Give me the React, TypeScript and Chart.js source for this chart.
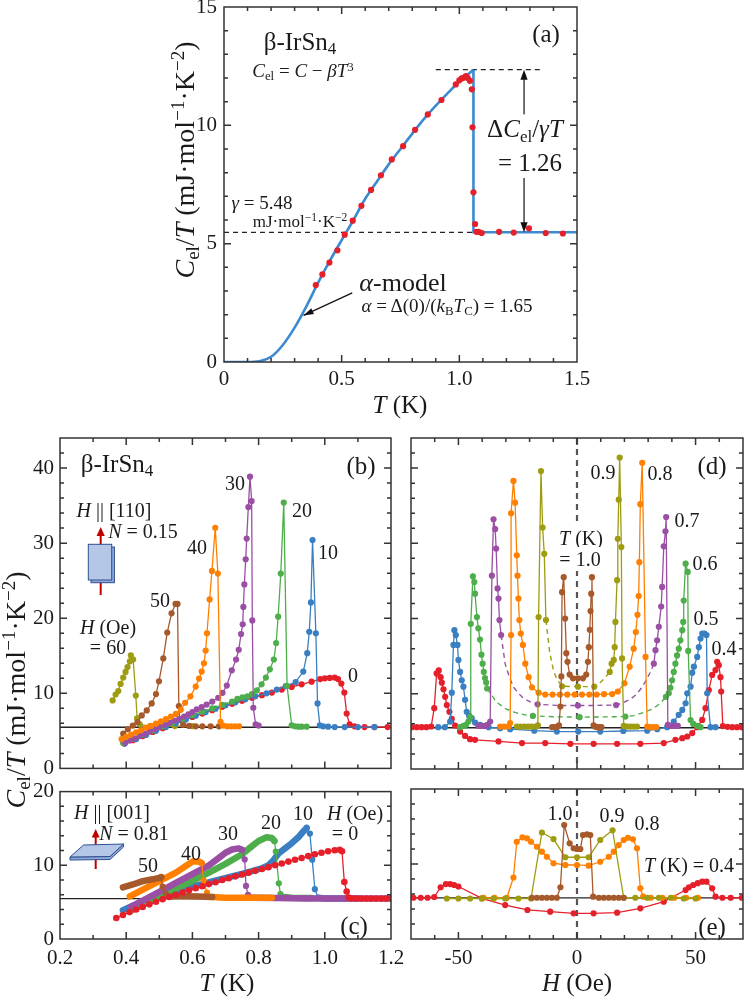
import React, { useEffect, useRef } from "react";
import { Chart, registerables } from "chart.js";

Chart.register(...registerables);

const SERIF = "'Liberation Serif', 'Times New Roman', Times, serif";
const INK = "#1a1a1a";
const RED = "#e5202b";
const BLUE = "#3a7fc1";
const GREEN = "#4eae4b";
const PURPLE = "#9a4fa5";
const ORANGE = "#ff8000";
const BROWN = "#a65a2c";
const OLIVE = "#9e9c10";
const FIT = "#3d8ad0";

// ---------------- common values ----------------
const GAMMA = 5.48;
const TC = 1.06;
const PEAK = 12.35;

// ---------------- panel (a) ----------------
const A_T = [0.39, 0.418, 0.448, 0.482, 0.513, 0.547, 0.584, 0.625, 0.667, 0.713, 0.761, 0.812, 0.866, 0.924, 0.985, 1.0, 1.01, 1.02, 1.028, 1.036, 1.045, 1.053, 1.056, 1.06, 1.067, 1.073, 1.082, 1.095, 1.169, 1.231, 1.296, 1.367, 1.44];
const A_C = [3.25, 3.7, 4.2, 4.72, 5.38, 5.97, 6.6, 7.27, 7.89, 8.56, 9.12, 9.81, 10.46, 11.07, 11.73, 11.9, 11.98, 12.02, 12.08, 12.0, 11.88, 11.52, 9.92, 7.17, 5.83, 5.5, 5.5, 5.45, 5.5, 5.47, 5.65, 5.45, 5.43];
const A_FIT_T = [0, 0.05, 0.1, 0.15, 0.2, 0.25, 0.3, 0.35, 0.4, 0.45, 0.5, 0.55, 0.6, 0.65, 0.7, 0.75, 0.8, 0.85, 0.9, 0.95, 1.0, 1.03, 1.06];
const A_FIT_C = [0, 0, 0, 0.03, 0.22, 0.72, 1.45, 2.35, 3.35, 4.28, 5.15, 6.0, 6.9, 7.63, 8.35, 9.0, 9.65, 10.27, 10.83, 11.35, 11.85, 12.1, 12.35];
const A_STEP_T = [TC, TC, 1.5];
const A_STEP_C = [PEAK, GAMMA, GAMMA];
const A_X_TICKS = [0, 0.5, 1.0, 1.5];
const A_X_LABELS = ["0", "0.5", "1.0", "1.5"];
const A_Y_TICKS = [0, 5, 10, 15];
const A_Y_LABELS = ["0", "5", "10", "15"];
const A_ARROW_T = 1.275;
const A_TOPDASH = [0.9, 1.35];
const A_POINTER = [0.545, 2.92, 0.338, 1.97];

// ---------------- panel (b): H || [110] ----------------
const B0_T = [0.394, 0.42, 0.45, 0.48, 0.51, 0.54, 0.57, 0.6, 0.63, 0.66, 0.69, 0.72, 0.75, 0.78, 0.81, 0.84, 0.87, 0.9, 0.93, 0.96, 0.986, 1.0, 1.015, 1.03, 1.04, 1.05, 1.059, 1.066, 1.075, 1.09, 1.12, 1.15, 1.19];
const B0_C = [3.3, 3.75, 4.3, 4.85, 5.35, 5.85, 6.35, 6.85, 7.3, 7.75, 8.2, 8.6, 9.0, 9.4, 9.75, 10.1, 10.5, 10.85, 11.2, 11.55, 11.9, 12.0, 12.05, 12.1, 11.9, 11.3, 10.1, 7.3, 5.87, 5.6, 5.5, 5.5, 5.5];
const B10_T = [0.396, 0.43, 0.46, 0.49, 0.52, 0.55, 0.58, 0.61, 0.64, 0.67, 0.7, 0.73, 0.76, 0.79, 0.824, 0.855, 0.882, 0.912, 0.935, 0.947, 0.953, 0.958, 0.963, 0.973, 0.978, 0.985, 0.995, 1.01, 1.03, 1.06, 1.1, 1.15];
const B10_C = [3.3, 3.9, 4.45, 5.0, 5.5, 6.0, 6.5, 7.0, 7.5, 7.95, 8.4, 8.8, 9.2, 9.6, 10.0, 10.5, 10.95, 11.5, 12.9, 15.35, 18.2, 22.1, 30.4, 18.0, 8.65, 5.73, 5.6, 5.55, 5.5, 5.5, 5.5, 5.5];
const B20_T = [0.39, 0.42, 0.45, 0.48, 0.51, 0.54, 0.57, 0.6, 0.63, 0.66, 0.69, 0.72, 0.736, 0.751, 0.766, 0.78, 0.795, 0.809, 0.822, 0.834, 0.846, 0.853, 0.859, 0.867, 0.876, 0.886, 0.9, 0.91, 0.92, 0.93, 0.945];
const B20_C = [3.4, 3.95, 4.5, 5.05, 5.6, 6.1, 6.6, 7.1, 7.55, 8.0, 8.45, 8.9, 9.27, 9.45, 9.6, 9.9, 10.4, 11.2, 12.1, 13.2, 14.5, 16.7, 20.2, 25.95, 35.4, 11.0, 5.73, 5.6, 5.55, 5.55, 5.55];
const B30_T = [0.396, 0.41, 0.425, 0.44, 0.455, 0.47, 0.485, 0.5, 0.515, 0.53, 0.545, 0.56, 0.575, 0.588, 0.6, 0.613, 0.628, 0.643, 0.66, 0.678, 0.691, 0.704, 0.719, 0.732, 0.74, 0.747, 0.752, 0.754, 0.757, 0.761, 0.764, 0.769, 0.774, 0.779, 0.781, 0.784, 0.791, 0.8];
const B30_C = [3.44, 3.7, 4.0, 4.3, 4.6, 4.9, 5.2, 5.5, 5.8, 6.05, 6.35, 6.6, 6.9, 7.2, 7.5, 7.85, 8.15, 8.5, 8.9, 9.4, 10.07, 11.03, 13.06, 14.5, 15.8, 17.9, 19.2, 21.5, 24.5, 27.85, 30.6, 34.8, 38.85, 35.6, 19.7, 8.08, 5.87, 5.7];
const B40_T = [0.386, 0.4, 0.415, 0.43, 0.445, 0.46, 0.475, 0.49, 0.505, 0.52, 0.535, 0.55, 0.565, 0.578, 0.594, 0.61, 0.62, 0.628, 0.635, 0.64, 0.644, 0.652, 0.659, 0.669, 0.677, 0.685, 0.693, 0.705, 0.717, 0.729, 0.741];
const B40_C = [3.9, 4.2, 4.5, 4.8, 5.1, 5.4, 5.65, 5.95, 6.25, 6.55, 6.9, 7.25, 7.8, 8.74, 9.6, 10.9, 11.96, 12.9, 14.0, 15.7, 18.0, 22.5, 26.3, 32.05, 25.95, 6.2, 5.7, 5.6, 5.6, 5.6, 5.6];
const B50_T = [0.391, 0.405, 0.42, 0.434, 0.447, 0.462, 0.477, 0.49, 0.499, 0.512, 0.524, 0.537, 0.549, 0.555, 0.559, 0.562, 0.572, 0.59, 0.61, 0.63, 0.655, 0.68];
const B50_C = [4.63, 5.2, 5.7, 6.17, 7.06, 7.72, 8.65, 9.9, 11.6, 14.65, 18.1, 20.65, 21.9, 21.9, 8.3, 6.5, 5.8, 5.65, 5.6, 5.6, 5.6, 5.6];
const B60_T = [0.359, 0.368, 0.376, 0.383, 0.391, 0.398, 0.404, 0.411, 0.414, 0.421, 0.429, 0.433, 0.441, 0.472, 0.502, 0.547, 0.6];
const B60_C = [9.05, 9.84, 10.3, 11.25, 12.1, 12.85, 13.5, 14.25, 15.05, 14.5, 9.7, 6.66, 5.87, 5.64, 5.56, 5.64, 5.64];
const BC_X_TICKS = [0.2, 0.4, 0.6, 0.8, 1.0, 1.2];
const BC_X_LABELS = ["0.2", "0.4", "0.6", "0.8", "1.0", "1.2"];
const B_Y_TICKS = [0, 10, 20, 30, 40];
const B_Y_LABELS = ["0", "10", "20", "30", "40"];

// ---------------- panel (c): H || [001] ----------------
const C0_T = [0.37, 0.39, 0.41, 0.43, 0.45, 0.47, 0.49, 0.51, 0.53, 0.55, 0.57, 0.59, 0.61, 0.63, 0.65, 0.67, 0.69, 0.71, 0.73, 0.75, 0.77, 0.79, 0.81, 0.83, 0.85, 0.87, 0.89, 0.91, 0.93, 0.95, 0.97, 0.99, 1.01, 1.03, 1.045, 1.052, 1.059, 1.066, 1.072, 1.08, 1.095, 1.11, 1.125, 1.14, 1.155, 1.17, 1.185, 1.2];
const C0_C = [2.84, 3.25, 3.65, 4.0, 4.35, 4.7, 5.05, 5.4, 5.7, 6.0, 6.3, 6.6, 6.9, 7.15, 7.45, 7.7, 8.0, 8.25, 8.5, 8.75, 9.0, 9.25, 9.5, 9.75, 10.0, 10.25, 10.5, 10.75, 11.0, 11.25, 11.5, 11.7, 11.9, 12.05, 12.1, 11.9, 7.73, 6.45, 5.64, 5.52, 5.5, 5.48, 5.48, 5.48, 5.48, 5.48, 5.48, 5.48];
const C10_T = [0.39, 0.42, 0.45, 0.48, 0.51, 0.54, 0.57, 0.6, 0.63, 0.66, 0.69, 0.72, 0.75, 0.78, 0.81, 0.83, 0.845, 0.86, 0.88, 0.9, 0.92, 0.935, 0.945, 0.955, 0.962, 0.97, 0.98, 1.0, 1.03, 1.06, 1.1];
const C10_C = [3.9, 4.5, 5.0, 5.45, 5.9, 6.3, 6.7, 7.1, 7.45, 7.8, 8.15, 8.5, 8.85, 9.2, 9.6, 10.0, 10.7, 11.6, 12.3, 13.0, 13.8, 14.6, 15.07, 14.3, 10.76, 6.76, 5.6, 5.5, 5.5, 5.5, 5.5];
const C20_T = [0.415, 0.45, 0.5, 0.55, 0.6, 0.65, 0.7, 0.75, 0.78, 0.8, 0.824, 0.84, 0.848, 0.852, 0.861, 0.866, 0.875, 0.9, 0.93, 0.96];
const C20_C = [3.87, 4.65, 5.75, 6.85, 7.9, 9.0, 10.2, 11.5, 12.6, 13.3, 13.8, 13.7, 13.3, 11.87, 7.56, 6.1, 5.7, 5.6, 5.55, 5.55];
const C30_T = [0.415, 0.45, 0.5, 0.55, 0.6, 0.65, 0.68, 0.7, 0.72, 0.74, 0.75, 0.758, 0.762, 0.768, 0.78, 0.85, 0.95, 1.05, 1.15, 1.2];
const C30_C = [4.4, 5.2, 6.4, 7.6, 8.8, 10.0, 11.0, 11.7, 12.15, 12.3, 12.1, 10.8, 7.2, 6.0, 5.6, 5.55, 5.5, 5.5, 5.5, 5.48];
const C40_T = [0.411, 0.45, 0.5, 0.55, 0.58, 0.6, 0.62, 0.628, 0.634, 0.644, 0.66, 0.7, 0.75, 0.8, 0.84];
const C40_C = [5.78, 6.7, 7.85, 9.0, 9.9, 10.5, 10.5, 10.3, 7.96, 6.3, 5.7, 5.6, 5.6, 5.6, 5.6];
const C50_T = [0.39, 0.42, 0.45, 0.48, 0.5, 0.506, 0.51, 0.52, 0.54, 0.58, 0.62, 0.66];
const C50_C = [7.0, 7.4, 7.85, 8.1, 8.3, 8.4, 7.1, 6.1, 5.8, 5.8, 5.75, 5.7];
const C_Y_TICKS = [0, 10, 20];
const C_Y_LABELS = ["0", "10", "20"];

// ---------------- panel (d): field sweeps, H || [110] ----------------
const D04_H = [-69.5, -67.5, -65.5, -63.5, -61.5, -60.2, -59.2, -58.3, -57.5, -57.0, -56.3, -55.6, -54.9, -53.8, -52.8, -51.4, -49.3, -47.2, -45.1, -43.0, -33.1, -23.2, -13.4, -2.8, 7.0, 16.9, 26.7, 36.6, 41.5, 44.4, 46.5, 48.6, 50.7, 52.8, 54.2, 55.6, 57.0, 58.4, 59.1, 59.8, 60.5, 60.8, 61.5, 63.5, 65.5, 67.5, 69.5];
const D04_C = [5.56, 5.56, 5.56, 5.56, 5.65, 8.08, 12.7, 13.1, 12.2, 11.47, 10.6, 9.6, 8.5, 7.6, 6.66, 5.78, 4.98, 4.4, 3.97, 3.88, 3.66, 3.44, 3.44, 3.35, 3.35, 3.35, 3.35, 3.44, 3.88, 4.1, 4.32, 4.77, 5.56, 6.53, 8.08, 10.5, 12.5, 13.15, 14.25, 13.8, 12.2, 10.3, 5.7, 5.6, 5.56, 5.56, 5.56];
const D05_H = [-58.5, -55.7, -53.5, -52.8, -52.1, -51.7, -51.1, -50.4, -50.0, -49.3, -48.6, -47.9, -47.2, -46.5, -45.5, -44.4, -43.0, -40.9, -37.3, -32.4, -28.2, -18.0, -8.5, 0.5, 9.8, 19.5, 29.6, 33.8, 38.0, 40.8, 42.9, 44.4, 45.8, 46.5, 47.9, 48.6, 49.3, 50.7, 51.4, 52.1, 52.8, 53.8, 54.6, 54.9, 56.3, 58.4];
const D05_C = [5.56, 5.56, 6.3, 10.15, 16.5, 18.45, 17.8, 16.5, 14.5, 12.9, 11.8, 10.95, 9.2, 7.6, 7.06, 6.75, 6.17, 5.87, 5.56, 5.43, 5.3, 5.1, 4.98, 4.98, 4.98, 5.05, 5.1, 5.3, 5.56, 6.3, 7.2, 7.85, 8.74, 10.07, 10.95, 12.8, 13.6, 14.9, 16.2, 17.35, 18.0, 18.0, 17.8, 10.07, 5.56, 5.56];
const D06L_H = [-49.3, -47.9, -46.8, -45.8, -45.1, -44.8, -43.9, -43.3, -43.0, -42.2, -41.6, -40.9, -40.3, -39.8, -39.3, -38.8, -38.3, -37.9];
const D06L_C = [5.56, 5.73, 5.87, 6.3, 6.9, 19.3, 25.6, 24.85, 23.3, 20.2, 18.7, 17.2, 15.2, 14.0, 12.9, 12.1, 11.5, 10.7];
const D06G_H = [-37.9, -34, -30, -26, -22, -18.6, -10, 1.1, 10, 20.4, 24, 28, 32, 35, 37.5];
const D06G_C = [10.7, 8.9, 8.0, 7.5, 7.2, 7.06, 6.95, 6.89, 6.92, 6.97, 7.1, 7.5, 8.0, 8.7, 9.6];
const D06M_H = [-18.6, 1.1, 20.4];
const D06M_C = [7.06, 6.89, 6.97];
const D06R_H = [37.5, 38.7, 39.4, 40.1, 40.8, 41.5, 42.2, 42.9, 43.6, 44.4, 44.8, 45.0, 45.8, 46.7, 46.9, 47.9, 49.0, 50.7, 52.1];
const D06R_C = [9.6, 10.07, 10.8, 11.8, 12.9, 14.0, 15.1, 16.0, 17.1, 18.45, 19.55, 22.4, 27.3, 26.2, 15.7, 6.5, 5.99, 5.73, 5.56];
const D07L_H = [-41.6, -40.1, -38.7, -37.8, -36.6, -35.9, -35.2, -34.5, -34.1, -33.5, -33.1, -32.7, -32.0];
const D07L_C = [5.73, 5.73, 5.73, 5.87, 6.3, 25.7, 33.2, 31.9, 29.3, 24.0, 22.65, 19.8, 17.8];
const D07G_H = [-32.0, -30.3, -28.5, -26.8, -24.5, -22.6, -19.5, -16.6, -8, 0.4, 8, 16.5, 19.5, 22.6, 25, 27, 29, 30.8, 32.4];
const D07G_C = [17.8, 14.0, 12.2, 10.9, 10.0, 9.4, 8.9, 8.6, 8.45, 8.43, 8.45, 8.5, 8.8, 9.3, 9.9, 10.7, 11.7, 12.8, 14.0];
const D07M_H = [-16.6, 0.4, 16.5];
const D07M_C = [8.6, 8.43, 8.5];
const D07R_H = [32.4, 33.1, 33.8, 34.5, 35.5, 35.9, 36.6, 37.3, 37.6, 38.3, 39.5, 41.0, 42.5];
const D07R_C = [14.0, 15.8, 17.1, 18.9, 21.6, 24.2, 29.6, 31.6, 33.5, 5.87, 5.73, 5.73, 5.73];
const D08_H = [-32.4, -30.7, -28.9, -28.2, -27.8, -27.8, -26.8, -26.1, -25.4, -25.1, -24.7, -24.3, -23.7, -22.8, -21.8, -20.4, -19.0, -16.2, -13.4, -10.3, -7.2, -4.1, -1.0, 2.1, 5.2, 8.3, 11.4, 14.8, 17.2, 20.0, 22.2, 23.9, 24.8, 25.5, 26.0, 26.3, 26.7, 27.5, 28.9, 29.6, 31.0, 32.4, 33.4];
const D08_C = [5.64, 5.64, 5.64, 6.1, 17.8, 34.0, 38.3, 35.4, 28.4, 25.7, 22.65, 19.8, 18.0, 16.5, 14.0, 12.2, 10.86, 10.15, 9.9, 9.9, 9.9, 9.9, 9.9, 9.9, 9.9, 9.9, 9.95, 9.97, 10.3, 11.4, 13.6, 16.0, 18.2, 20.5, 23.0, 27.5, 35.2, 40.7, 14.9, 5.64, 5.56, 5.56, 5.56];
const D09L_H = [-25.4, -23.8, -22.2, -20.6, -19.0, -17.4, -16.5, -16.2, -15.2, -14.5, -13.8, -13.1];
const D09L_C = [5.64, 5.64, 5.64, 5.64, 5.64, 5.64, 5.8, 20.2, 39.6, 32.1, 28.6, 19.8];
const D09G_H = [-13.1, -11.5, -10, -8.5, -6.3, 0.4, 7.3, 9.5, 11.5, 13.8];
const D09G_C = [19.8, 15.5, 13.2, 11.9, 11.0, 10.95, 10.95, 11.4, 12.0, 12.9];
const D09M_H = [-6.3, 0.4, 7.3];
const D09M_C = [11.0, 10.95, 10.95];
const D09R_H = [13.8, 14.6, 15.5, 15.9, 16.2, 16.9, 17.2, 17.6, 18.0, 18.7, 19.0, 19.7, 21.1, 22.5, 23.9, 25.3];
const D09R_C = [12.9, 14.0, 14.5, 16.2, 19.55, 25.1, 30.6, 35.8, 41.4, 29.5, 14.7, 5.73, 5.64, 5.64, 5.64, 5.64];
const D10_H = [-10.5, -9.5, -8.5, -7.6, -7.0, -6.6, -6.3, -5.6, -5.0, -4.5, -4.0, -3.1, -1.7, 0.4, 2.5, 3.9, 4.6, 5.0, 5.4, 5.7, 6.0, 6.3, 7.0, 7.6, 8.5, 9.4, 10.3];
const D10_C = [5.56, 5.56, 5.6, 5.8, 8.3, 12.3, 23.5, 25.5, 20.0, 15.4, 14.25, 12.55, 12.05, 12.05, 12.05, 12.55, 14.25, 16.2, 18.5, 21.0, 23.3, 25.5, 5.8, 5.64, 5.56, 5.56, 5.56];
const DE_X_TICKS = [-50, 0, 50];
const DE_X_LABELS = ["-50", "0", "50"];

// ---------------- panel (e): field sweeps, H || [001] ----------------
const E04_H = [-69, -65.9, -63, -60.2, -57.5, -55.3, -53.5, -51.8, -50, -40.1, -30.3, -20.9, -11.3, -1.4, 7, 16.9, 26.7, 36.6, 45.8, 47.2, 49, 50.9, 52.8, 54.6, 57, 58.4, 61.3, 64.8, 69.5];
const E04_C = [5.5, 5.5, 5.5, 5.6, 6.9, 7.33, 7.33, 7.2, 7.0, 5.42, 4.53, 3.87, 3.64, 3.42, 3.42, 3.51, 4.09, 4.98, 6.53, 6.9, 7.2, 7.45, 7.64, 7.64, 6.76, 5.64, 5.5, 5.5, 5.5];
const E08_H = [-39.4, -34.8, -29.6, -26.8, -25.4, -23, -21.1, -19.4, -16.9, -14.8, -12.7, -9.9, -4.9, 0, 4.9, 9.8, 13.4, 15.5, 17.6, 19.7, 21.5, 23.6, 25.3, 26.7, 27.9, 31.1, 36, 41, 46, 51];
const E08_C = [5.5, 5.5, 5.5, 8.2, 12.97, 13.56, 13.42, 12.97, 12.3, 11.64, 10.97, 10.1, 9.87, 9.87, 9.78, 10.3, 10.97, 11.64, 12.53, 13.2, 13.5, 13.3, 12.1, 6.76, 5.64, 5.5, 5.5, 5.5, 5.5, 5.5];
const E09_H = [-54.9, -50, -45.1, -40.1, -35.2, -30.3, -24.7, -19.4, -14.8, -9.9, -4.9, 0, 4.9, 9.8, 15, 19.7, 24.6, 29.6, 34.5, 39.5, 45, 50];
const E09_C = [5.4, 5.4, 5.4, 5.4, 5.4, 5.4, 5.4, 5.4, 14.2, 13.33, 10.9, 10.9, 10.9, 13.2, 14.5, 5.5, 5.5, 5.5, 5.5, 5.5, 5.4, 5.4];
const E10_H = [-19, -16.9, -14.8, -12.7, -10.6, -8.5, -7, -5.4, -3.1, -1.4, 0, 1.4, 2.5, 4.2, 5.6, 6.8, 9.2, 11.3, 13.4, 15.5, 17.6, 19.7];
const E10_C = [5.5, 5.5, 5.5, 5.5, 5.5, 5.5, 6.9, 15.2, 12.76, 12.1, 12.0, 12.0, 13.87, 13.96, 13.87, 5.64, 5.5, 5.5, 5.5, 5.5, 5.5, 5.5];

// ---------------- helpers ----------------
type Axis = { min: number; max: number; major: number[]; minor: number; labels?: string[]; pad?: number };
type Area = { l: number; t: number; r: number; b: number };
type Marg = { ml: number; mt: number; mr: number; mb: number };
type Decor = {
  hline?: number;
  vdash?: number;
  under?: (ctx: CanvasRenderingContext2D, xs: any, ys: any) => void;
  over?: (ctx: CanvasRenderingContext2D, xs: any, ys: any) => void;
};

const pts = (xs: number[], ys: number[]) => xs.map((x, i) => ({ x, y: ys[i] }));

function ser(xs: number[], ys: number[], color: string, extra: any = {}) {
  return {
    data: pts(xs, ys),
    showLine: true,
    borderColor: color,
    backgroundColor: color,
    pointBackgroundColor: color,
    pointBorderColor: color,
    pointBorderWidth: 0,
    pointRadius: 3.1,
    borderWidth: 1.3,
    tension: 0,
    ...extra,
  };
}
const guide = (xs: number[], ys: number[], color: string) =>
  ser(xs, ys, color, { pointRadius: 0, borderDash: [5, 4], borderWidth: 1.4 });
const dots = (xs: number[], ys: number[], color: string) => ser(xs, ys, color, { showLine: false });

// dense sweeps in (c): thick band, thin line across the drop, thick band afterwards
function banded(xs: number[], ys: number[], color: string, i0: number, i1: number) {
  const band = { pointRadius: 0, borderWidth: 6.5, borderCapStyle: "round", borderJoinStyle: "round" };
  return [
    ser(xs.slice(0, i0 + 1), ys.slice(0, i0 + 1), color, band),
    ser(xs.slice(i0, i1 + 1), ys.slice(i0, i1 + 1), color),
    ser(xs.slice(i1), ys.slice(i1), color, band),
  ];
}

function axisOpts(a: Axis, horiz: boolean, size: number) {
  return {
    type: "linear",
    min: a.min,
    max: a.max,
    grid: { display: false, drawTicks: false },
    border: { display: false },
    afterBuildTicks: (s: any) => {
      s.ticks = a.major.map((v) => ({ value: v }));
    },
    afterFit: (s: any) => {
      if (horiz) s.height = size;
      else s.width = size;
    },
    ticks: {
      display: !!a.labels,
      padding: a.pad ?? 6,
      autoSkip: false,
      maxRotation: 0,
      color: INK,
      font: { family: SERIF, size: 21 },
      callback: (_v: any, i: number) => (a.labels ? a.labels[i] : ""),
    },
  };
}

function arrowHead(ctx: CanvasRenderingContext2D, x: number, y: number, ang: number, len = 10, half = 3.6) {
  const c = Math.cos(ang), s = Math.sin(ang);
  ctx.beginPath();
  ctx.moveTo(x, y);
  ctx.lineTo(x - len * c + half * s, y - len * s - half * c);
  ctx.lineTo(x - len * c - half * s, y - len * s + half * c);
  ctx.closePath();
  ctx.fill();
}

function decorPlugin(xa: Axis, ya: Axis, d: Decor) {
  return {
    id: "decor",
    beforeDatasetsDraw(chart: any) {
      const { ctx, chartArea: a } = chart;
      const xs = chart.scales.x, ys = chart.scales.y;
      ctx.save();
      ctx.beginPath();
      ctx.rect(a.left, a.top, a.right - a.left, a.bottom - a.top);
      ctx.clip();
      if (d.hline !== undefined) {
        const py = ys.getPixelForValue(d.hline);
        ctx.strokeStyle = "#222";
        ctx.lineWidth = 1.4;
        ctx.beginPath();
        ctx.moveTo(a.left, py);
        ctx.lineTo(a.right, py);
        ctx.stroke();
      }
      if (d.vdash !== undefined) {
        const px = xs.getPixelForValue(d.vdash);
        ctx.strokeStyle = "#555";
        ctx.lineWidth = 2.2;
        ctx.setLineDash([6, 5]);
        ctx.beginPath();
        ctx.moveTo(px, a.top);
        ctx.lineTo(px, a.bottom);
        ctx.stroke();
        ctx.setLineDash([]);
      }
      if (d.under) d.under(ctx, xs, ys);
      ctx.restore();
    },
    afterDatasetsDraw(chart: any) {
      const { ctx, chartArea: a } = chart;
      const xs = chart.scales.x, ys = chart.scales.y;
      if (d.over) {
        ctx.save();
        d.over(ctx, xs, ys);
        ctx.restore();
      }
      ctx.save();
      ctx.strokeStyle = "#333";
      ctx.lineWidth = 1.5;
      const tick = (ax: Axis, sc: any, horiz: boolean) => {
        const k0 = Math.ceil(ax.min / ax.minor - 1e-6);
        const k1 = Math.floor(ax.max / ax.minor + 1e-6);
        for (let k = k0; k <= k1; k++) {
          const v = k * ax.minor;
          if (Math.abs(v - ax.min) < 1e-6 || Math.abs(v - ax.max) < 1e-6) continue;
          const major = ax.major.some((t) => Math.abs(t - v) < 1e-6);
          const len = major ? 7 : 4;
          const p = sc.getPixelForValue(v);
          ctx.beginPath();
          if (horiz) {
            ctx.moveTo(p, a.bottom);
            ctx.lineTo(p, a.bottom - len);
            ctx.moveTo(p, a.top);
            ctx.lineTo(p, a.top + len);
          } else {
            ctx.moveTo(a.left, p);
            ctx.lineTo(a.left + len, p);
            ctx.moveTo(a.right, p);
            ctx.lineTo(a.right - len, p);
          }
          ctx.stroke();
        }
      };
      tick(xa, xs, true);
      tick(ya, ys, false);
      ctx.strokeRect(a.left, a.top, a.right - a.left, a.bottom - a.top);
      ctx.restore();
    },
  };
}

function Panel({ area, m, x, y, datasets, decor }: { area: Area; m: Marg; x: Axis; y: Axis; datasets: any[]; decor: Decor }) {
  const ref = useRef<HTMLCanvasElement>(null);
  const w = area.r - area.l + m.ml + m.mr;
  const h = area.b - area.t + m.mt + m.mb;
  useEffect(() => {
    const chart = new Chart(ref.current as HTMLCanvasElement, {
      type: "scatter",
      data: { datasets },
      options: {
        animation: false,
        responsive: false,
        events: [],
        layout: { padding: { left: 0, top: m.mt, right: m.mr, bottom: 0 } },
        plugins: { legend: { display: false }, tooltip: { enabled: false } },
        scales: { x: axisOpts(x, true, m.mb), y: axisOpts(y, false, m.ml) } as any,
      },
      plugins: [decorPlugin(x, y, decor)],
    } as any);
    return () => chart.destroy();
  }, []);
  return (
    <canvas
      ref={ref}
      width={w}
      height={h}
      style={{ position: "absolute", left: area.l - m.ml, top: area.t - m.mt, width: w, height: h }}
    />
  );
}

// ---------------- text helpers ----------------
function Txt({ x, y, s = 20, bg, rot, children }: any) {
  return (
    <div
      style={{
        position: "absolute",
        left: x,
        top: y,
        transform: `translate(-50%,-50%)${rot ? " rotate(-90deg)" : ""}`,
        fontFamily: SERIF,
        fontSize: s,
        lineHeight: bg ? `${Math.round(s * 1.2)}px` : 1,
        whiteSpace: "nowrap",
        color: INK,
        background: bg ? "#fff" : undefined,
      }}
    >
      {children}
    </div>
  );
}
const I = ({ children }: any) => <i>{children}</i>;
const Sub = ({ children }: any) => (
  <span style={{ fontSize: "0.68em", verticalAlign: "-0.25em", fontStyle: "normal" }}>{children}</span>
);
const Sup = ({ children }: any) => (
  <span style={{ fontSize: "0.68em", verticalAlign: "0.5em", fontStyle: "normal" }}>{children}</span>
);
const YTitle = () => (
  <>
    <I>C</I>
    <Sub>el</Sub>/<I>T</I> (mJ·mol<Sup>−1</Sup>·K<Sup>−2</Sup>)
  </>
);

// ---------------- layout ----------------
const AREA_A: Area = { l: 224, t: 7, r: 577, b: 362 };
const AREA_B: Area = { l: 60, t: 438, r: 391, b: 769 };
const AREA_C: Area = { l: 60, t: 789, r: 391, b: 939 };
const AREA_D: Area = { l: 411, t: 438, r: 743, b: 769 };
const AREA_E: Area = { l: 411, t: 789, r: 743, b: 939 };

export default function App() {
  const ax: Axis = { min: 0, max: 1.5, major: A_X_TICKS, minor: 0.1, labels: A_X_LABELS, pad: 5 };
  const ay: Axis = { min: 0, max: 15, major: A_Y_TICKS, minor: 1, labels: A_Y_LABELS, pad: 7 };
  const bx: Axis = { min: 0.2, max: 1.2, major: BC_X_TICKS, minor: 0.1 };
  const by: Axis = { min: 0, max: 44, major: B_Y_TICKS, minor: 2, labels: B_Y_LABELS, pad: 6 };
  const cx: Axis = { min: 0.2, max: 1.2, major: BC_X_TICKS, minor: 0.1, labels: BC_X_LABELS, pad: 7 };
  const cy: Axis = { min: 0, max: 20, major: C_Y_TICKS, minor: 2, labels: C_Y_LABELS, pad: 6 };
  const dx: Axis = { min: -70, max: 70, major: DE_X_TICKS, minor: 10 };
  const dy: Axis = { min: 0, max: 44, major: B_Y_TICKS, minor: 2 };
  const ex: Axis = { min: -70, max: 70, major: DE_X_TICKS, minor: 10, labels: DE_X_LABELS, pad: 7 };
  const ey: Axis = { min: 0, max: 20, major: C_Y_TICKS, minor: 2 };

  const aDatasets = [
    dots(A_T, A_C, RED, { pointRadius: 4.3 }),
    ser(A_FIT_T, A_FIT_C, FIT, { pointRadius: 0, borderWidth: 2.6, cubicInterpolationMode: "monotone" }),
    ser(A_STEP_T, A_STEP_C, FIT, { pointRadius: 0, borderWidth: 2.6 }),
  ];
  const aDecor: Decor = {
    under: (ctx, xs, ys) => {
      ctx.strokeStyle = "#222";
      ctx.lineWidth = 1.2;
      ctx.setLineDash([5, 4]);
      ctx.beginPath();
      ctx.moveTo(xs.getPixelForValue(0), ys.getPixelForValue(GAMMA));
      ctx.lineTo(xs.getPixelForValue(TC), ys.getPixelForValue(GAMMA));
      ctx.moveTo(xs.getPixelForValue(A_TOPDASH[0]), ys.getPixelForValue(PEAK));
      ctx.lineTo(xs.getPixelForValue(A_TOPDASH[1]), ys.getPixelForValue(PEAK));
      ctx.stroke();
      ctx.setLineDash([]);
    },
    over: (ctx, xs, ys) => {
      ctx.strokeStyle = "#111";
      ctx.fillStyle = "#111";
      ctx.lineWidth = 1.2;
      const px = xs.getPixelForValue(A_ARROW_T);
      const y1 = ys.getPixelForValue(PEAK);
      const y2 = ys.getPixelForValue(GAMMA);
      ctx.beginPath();
      ctx.moveTo(px, y1 + 4);
      ctx.lineTo(px, y2 - 4);
      ctx.stroke();
      arrowHead(ctx, px, y1, -Math.PI / 2);
      arrowHead(ctx, px, y2, Math.PI / 2);
      const fx = xs.getPixelForValue(A_POINTER[0]), fy = ys.getPixelForValue(A_POINTER[1]);
      const tx = xs.getPixelForValue(A_POINTER[2]), ty = ys.getPixelForValue(A_POINTER[3]);
      ctx.beginPath();
      ctx.moveTo(fx, fy);
      ctx.lineTo(tx, ty);
      ctx.stroke();
      arrowHead(ctx, tx, ty, Math.atan2(ty - fy, tx - fx), 10, 3.2);
    },
  };

  const bDatasets = [
    ser(B40_T, B40_C, ORANGE),
    ser(B30_T, B30_C, PURPLE),
    ser(B20_T, B20_C, GREEN),
    ser(B10_T, B10_C, BLUE),
    ser(B50_T, B50_C, BROWN),
    ser(B60_T, B60_C, OLIVE),
    ser(B0_T, B0_C, RED),
  ];

  const cDatasets = [
    ser(C0_T, C0_C, RED, { pointRadius: 3.3 }),
    ...banded(C50_T, C50_C, BROWN, 5, 8),
    ...banded(C40_T, C40_C, ORANGE, 7, 10),
    ...banded(C30_T, C30_C, PURPLE, 10, 14),
    ...banded(C20_T, C20_C, GREEN, 12, 16),
    ...banded(C10_T, C10_C, BLUE, 22, 26),
  ];

  const dDatasets = [
    ser(D10_H, D10_C, BROWN),
    ser(D09L_H, D09L_C, OLIVE),
    guide(D09G_H, D09G_C, OLIVE),
    dots(D09M_H, D09M_C, OLIVE),
    ser(D09R_H, D09R_C, OLIVE),
    ser(D08_H, D08_C, ORANGE),
    ser(D07L_H, D07L_C, PURPLE),
    guide(D07G_H, D07G_C, PURPLE),
    dots(D07M_H, D07M_C, PURPLE),
    ser(D07R_H, D07R_C, PURPLE),
    ser(D06L_H, D06L_C, GREEN),
    guide(D06G_H, D06G_C, GREEN),
    dots(D06M_H, D06M_C, GREEN),
    ser(D06R_H, D06R_C, GREEN),
    ser(D05_H, D05_C, BLUE),
    ser(D04_H, D04_C, RED),
  ];

  const eDatasets = [
    ser(E10_H, E10_C, BROWN),
    ser(E09_H, E09_C, OLIVE),
    ser(E08_H, E08_C, ORANGE),
    ser(E04_H, E04_C, RED),
  ];

  return (
    <div style={{ position: "absolute", left: 0, top: 0, width: 747, height: 997, overflow: "hidden", background: "#fff" }}>
      <Panel area={AREA_A} m={{ ml: 60, mt: 22, mr: 30, mb: 35 }} x={ax} y={ay} datasets={aDatasets} decor={aDecor} />
      <Panel area={AREA_B} m={{ ml: 58, mt: 20, mr: 18, mb: 18 }} x={bx} y={by} datasets={bDatasets} decor={{ hline: GAMMA }} />
      <Panel area={AREA_C} m={{ ml: 58, mt: 16, mr: 25, mb: 40 }} x={cx} y={cy} datasets={cDatasets} decor={{ hline: GAMMA }} />
      <Panel area={AREA_D} m={{ ml: 18, mt: 20, mr: 4, mb: 18 }} x={dx} y={dy} datasets={dDatasets} decor={{ hline: GAMMA, vdash: 0 }} />
      <Panel area={AREA_E} m={{ ml: 18, mt: 16, mr: 4, mb: 40 }} x={ex} y={ey} datasets={eDatasets} decor={{ hline: GAMMA, vdash: 0 }} />

      <svg width={747} height={997} style={{ position: "absolute", left: 0, top: 0, pointerEvents: "none" }}>
        {/* inset (b): block sample with field arrow */}
        <line x1={100.7} y1={595} x2={100.7} y2={534} stroke="#c00000" strokeWidth={2} />
        <polygon points="100.7,527 96.6,536 104.8,536" fill="#c00000" />
        <rect x={91} y={547} width={23.4} height={35.7} fill="#8ea9db" stroke="#2f4f8f" strokeWidth={1} />
        <rect x={88.3} y={544.3} width={23.4} height={35.7} fill="#b4c7e7" stroke="#2f4f8f" strokeWidth={1} />
        {/* inset (c): plate sample with field arrow */}
        <line x1={95.7} y1={869} x2={95.7} y2={835} stroke="#c00000" strokeWidth={2} />
        <polygon points="95.7,829 91.8,837.5 99.6,837.5" fill="#c00000" />
        <polygon points="70,857 110,856.5 123.5,844 123.5,847 110,859.5 70,860" fill="#8ea9db" stroke="#2f4f8f" strokeWidth={1} />
        <polygon points="70,857 83.5,845 123.5,844 110,856.5" fill="#b4c7e7" stroke="#2f4f8f" strokeWidth={1} />
      </svg>

      {/* panel (a) text */}
      <Txt x={300} y={43} s={25}>β-IrSn<Sub>4</Sub></Txt>
      <Txt x={303} y={72} s={19}>
        <I>C</I><Sub>el</Sub> = <I>C</I> − <I>βT</I><Sup>3</Sup>
      </Txt>
      <Txt x={546} y={33} s={25}>(a)</Txt>
      <Txt x={525} y={133} s={25} bg>
        Δ<I>C</I><Sub>el</Sub>/<I>γT</I>
      </Txt>
      <Txt x={530} y={163} s={25} bg>= 1.26</Txt>
      <Txt x={262} y={202} s={19}><I>γ</I> = 5.48</Txt>
      <Txt x={300} y={221} s={17}>mJ·mol<Sup>−1</Sup>·K<Sup>−2</Sup></Txt>
      <Txt x={403} y={283} s={26}><I>α</I>-model</Txt>
      <Txt x={447} y={307} s={19}>
        <I>α</I> = Δ(0)/(<I>k</I><Sub>B</Sub><I>T</I><Sub>C</Sub>) = 1.65
      </Txt>
      <Txt x={400} y={404} s={25}><I>T</I> (K)</Txt>
      <Txt x={185} y={160} s={28} rot><YTitle /></Txt>

      {/* panel (b) text */}
      <Txt x={117} y={465} s={25}>β-IrSn<Sub>4</Sub></Txt>
      <Txt x={361} y={465} s={25}>(b)</Txt>
      <Txt x={114} y={510}><I>H</I> || [110]</Txt>
      <Txt x={143} y={531}><I>N</I> = 0.15</Txt>
      <Txt x={235} y={483}>30</Txt>
      <Txt x={302} y={510}>20</Txt>
      <Txt x={197} y={547}>40</Txt>
      <Txt x={328} y={552}>10</Txt>
      <Txt x={160} y={600}>50</Txt>
      <Txt x={353} y={675}>0</Txt>
      <Txt x={108} y={627}><I>H</I> (Oe)</Txt>
      <Txt x={108} y={647}>= 60</Txt>

      {/* panel (c) text */}
      <Txt x={112} y={812}><I>H</I> || [001]</Txt>
      <Txt x={134} y={833}><I>N</I> = 0.81</Txt>
      <Txt x={148} y={865}>50</Txt>
      <Txt x={191} y={853}>40</Txt>
      <Txt x={228} y={833}>30</Txt>
      <Txt x={271} y={822}>20</Txt>
      <Txt x={303} y={813}>10</Txt>
      <Txt x={355} y={813}><I>H</I> (Oe)</Txt>
      <Txt x={345} y={833}>= 0</Txt>
      <Txt x={354} y={925} s={25}>(c)</Txt>
      <Txt x={227} y={982} s={25}><I>T</I> (K)</Txt>
      <Txt x={16} y={690} s={28} rot><YTitle /></Txt>

      {/* panel (d) text */}
      <Txt x={603} y={472}>0.9</Txt>
      <Txt x={660} y={473}>0.8</Txt>
      <Txt x={687} y={520}>0.7</Txt>
      <Txt x={705} y={563}>0.6</Txt>
      <Txt x={706} y={618}>0.5</Txt>
      <Txt x={724} y={648}>0.4</Txt>
      <Txt x={581} y={538} bg><I>T</I> (K)</Txt>
      <Txt x={580} y={559} bg>= 1.0</Txt>
      <Txt x={712} y={465} s={25}>(d)</Txt>

      {/* panel (e) text */}
      <Txt x={560} y={813}>1.0</Txt>
      <Txt x={612} y={815}>0.9</Txt>
      <Txt x={647} y={823}>0.8</Txt>
      <Txt x={689} y={865}><I>T</I> (K) = 0.4</Txt>
      <Txt x={712} y={926} s={25}>(e)</Txt>
      <Txt x={577} y={982} s={25}><I>H</I> (Oe)</Txt>
    </div>
  );
}
